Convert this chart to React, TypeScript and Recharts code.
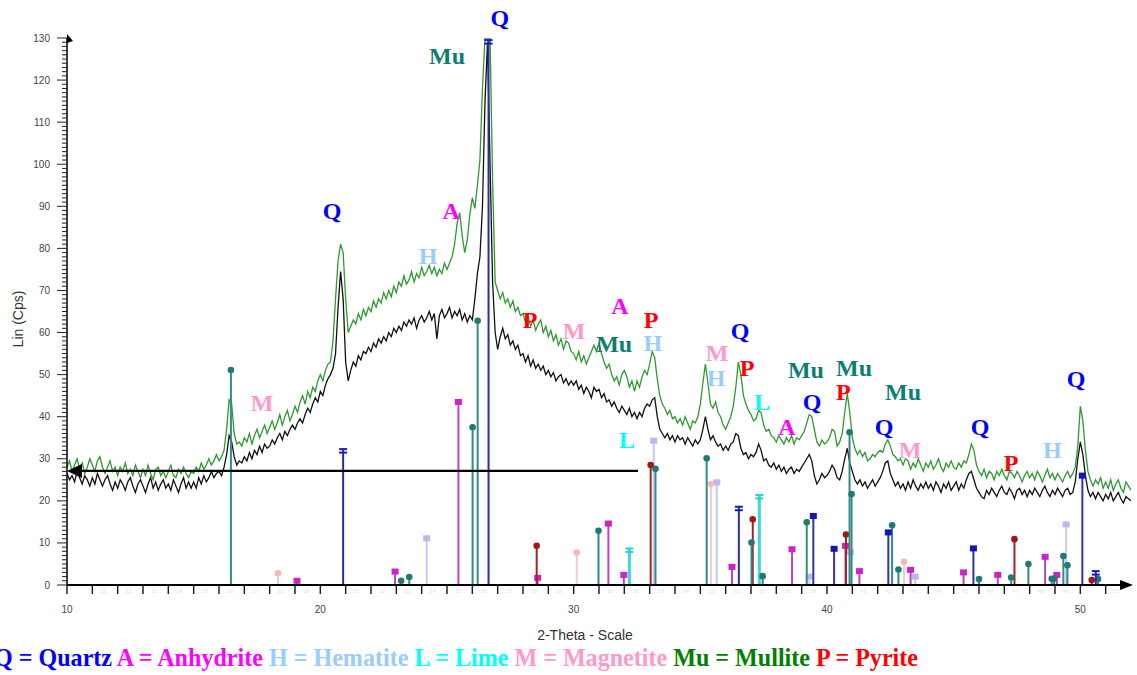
import React from 'react';
import { ComposedChart, Line, XAxis, YAxis, ReferenceLine, ReferenceDot } from 'recharts';

// 2-theta grid of both scans (degrees)
const thetaStart = 10;
const thetaStep = 0.1;

// upper scan (green), Cps, one row per degree
const scanUpper = [
  28, 29.5, 27, 28.5, 30, 27.5, 29, 26.5, 28, 30,
  28.5, 27, 29.5, 30.5, 28, 26.5, 28, 29.5, 27, 28,
  26, 28, 27, 29, 26.5, 27.5, 26, 28.5, 27, 25.5,
  27.5, 26, 28.5, 26.5, 25, 27.5, 28, 26, 27, 25.5,
  27, 28.5, 26, 25.5, 27.5, 26.5, 28, 26.5, 25.5, 27,
  26.5, 28, 27, 29, 27.5, 28.5, 30, 28.5, 29.5, 31,
  29.5, 30.5, 32, 37, 44, 43, 36, 33.5, 34, 33,
  35, 34, 36, 33.5, 35.5, 37, 35, 36.5, 38, 36,
  37.5, 39, 37, 38.5, 40.5, 38, 40, 41.5, 39, 40.5,
  42.5, 41, 43.5, 45, 43, 46, 44.5, 47, 46, 48.5,
  50, 48.5, 51, 52.5, 53, 58, 68, 77, 81, 79,
  68, 60, 61.5, 63, 62, 64.5, 63, 65.5, 64, 66,
  65, 67.5, 66, 68, 67, 69.5, 68, 70, 68.5, 71,
  69.5, 72, 71, 73.5, 71.5, 72.5, 74.5, 72, 74, 73,
  75.5, 73.5, 74.5, 76, 74, 75.5, 73.5, 75, 74, 76.5,
  75, 76.5, 78, 81, 86, 88.5, 83, 79, 82, 88,
  92, 89.5, 95, 101, 118, 130, 130, 130, 96, 72,
  70, 68, 69.5, 67, 68, 66, 67.5, 65, 66, 64,
  64.5, 62.5, 64, 61.5, 63, 60.5, 62, 63, 60, 61.5,
  59, 60.5, 58, 59.5, 57, 58.5, 56, 58, 57.5, 55.5,
  55, 53.5, 55.5, 53, 54.5, 52.5, 54, 55.5, 57, 55.5,
  57.5, 55, 53, 51.5, 52.5, 50, 48.5, 49.5, 47.5, 50,
  51, 49.5, 47, 48.5, 46, 48.5, 47, 49.5, 51, 50,
  52.5, 55.5, 54, 49, 45, 43, 42, 40.5, 41.5, 39.5,
  40, 38.5, 39.5, 38, 40, 38.5, 37, 39, 38.5, 40,
  43, 48, 52.5, 48, 43, 42, 43.5, 41, 40, 38,
  37, 38.5, 40, 42.5, 47, 53, 50, 45, 43, 41.5,
  40.5, 39, 39.5, 41.5, 41, 38, 36.5, 37, 35.5, 35,
  34, 35.5, 34.5, 33.5, 35, 34, 35.5, 33.5, 35, 34.5,
  35.5, 36.5, 38.5, 40.5, 40, 37, 34, 33, 34.5, 33.5,
  34, 35, 37, 36.5, 33, 34, 36, 41, 45.5, 41,
  35, 32.5, 31, 32, 30.5, 31.5, 29.5, 30, 31, 30.5,
  31.5, 32, 31.5, 33.5, 34.5, 33, 31, 30.5, 29.5, 30,
  28.5, 30, 29.5, 27.5, 29, 28, 30, 28.5, 27, 29,
  28, 29.5, 27.5, 28.5, 30, 28, 27, 29, 28, 29.5,
  28, 27.5, 29, 28, 29.5, 29, 31, 33.5, 32, 28.5,
  27, 26, 27.5, 25.5, 27, 26.5, 25, 27, 26, 27.5,
  26, 25, 27, 26.5, 25.5, 27, 26, 24.5, 26, 27,
  25.5, 26.5, 25, 27, 26, 24.5, 26, 27.5, 25.5, 26.5,
  25, 26.5, 25.5, 24.5, 26, 27, 25.5, 26.5, 28, 33,
  42.5, 39, 32, 27, 25, 23.5, 25, 24, 25.5, 23,
  24.5, 23, 25, 22.5, 24, 25, 23, 22, 24.5, 23.5,
  22.5,
];

// lower scan (black), Cps
const scanLower = [
  26.5, 25, 26, 24.5, 27, 25.5, 24, 26, 25, 23.5,
  25.5, 24, 26.5, 25, 23.5, 25, 26, 24, 22.5, 24.5,
  23, 25, 24, 22.5, 24.5, 25.5, 23.5, 22, 24, 25,
  23.5, 22, 24, 25.5, 23, 24.5, 22.5, 24, 25, 23,
  24, 22.5, 25, 23.5, 22, 24, 25.5, 23, 24.5, 23,
  24.5, 23, 25.5, 24, 26, 24.5, 25.5, 27, 25.5, 26.5,
  27, 26, 28, 31, 35.5, 34, 30.5, 28.5, 29.5, 29,
  30.5, 29.5, 31.5, 30, 32, 31, 33, 31.5, 33.5, 32.5,
  33, 34.5, 33.5, 35, 36, 34.5, 36.5, 35.5, 37, 38,
  37, 38.5, 39.5, 38.5, 40.5, 42, 41, 43, 44.5, 43.5,
  46, 45, 47.5, 49, 50, 51.5, 55, 66, 74.5, 68,
  53, 48.5, 51, 53, 52, 54.5, 53.5, 55.5, 55, 56.5,
  55.5, 57.5, 56.5, 58.5, 57.5, 59, 58, 60, 59, 61,
  60, 61.5, 60.5, 62.5, 61.5, 63, 62, 63.5, 61, 63,
  64, 62.5, 63.5, 65, 63, 64.5, 58.5, 64, 65.5, 63.5,
  64.5, 66, 63.5, 65, 64, 65.5, 63, 64.5, 62.5, 64,
  63, 68, 74, 78, 90, 115, 129, 100, 72, 60,
  56, 59, 61, 58.5, 59.5, 57, 58, 56, 57, 54.5,
  55, 53, 54.5, 52, 53.5, 51.5, 52.5, 51, 52, 50,
  51, 49.5, 50.5, 48.5, 49.5, 50, 48, 49, 47.5, 48.5,
  47.5, 48.5, 46.5, 47.5, 45.5, 47, 46, 44.5, 47, 46,
  46.5, 44.5, 45.5, 43.5, 44, 42.5, 43.5, 42, 41, 42.5,
  41.5, 40.5, 42, 40, 41, 39.5, 41, 40, 42, 43,
  42.5, 44, 44.5, 40, 37, 36, 35, 36, 34.5, 35.5,
  34, 35.5, 34.5, 35, 33.5, 35, 34, 33, 34.5, 33.5,
  34.5, 37, 40, 37, 34.5, 35.5, 34, 33, 33.5, 32,
  33, 32, 33.5, 34, 36, 35.5, 32.5, 31, 31.5, 30,
  31, 30.5, 31.5, 33.5, 32, 29.5, 30, 28.5, 28, 29,
  27.5, 28.5, 27, 28, 26.5, 27.5, 28, 26.5, 27.5, 27,
  28, 29, 30, 31, 29.5, 26, 24, 25, 26.5, 25.5,
  26, 27, 28.5, 27.5, 25.5, 25, 27, 30, 32.5, 29,
  27, 25, 24, 25, 23.5, 24.5, 23, 24, 25, 23.5,
  24.5, 25.5, 27, 29, 29.5, 26.5, 25, 23.5, 24.5, 23,
  24, 22.5, 24.5, 23, 25, 23.5, 22.5, 24, 23, 24.5,
  23, 24, 22.5, 24.5, 23.5, 22, 24, 23, 24.5, 22.5,
  23.5, 24.5, 22.5, 24, 23, 25, 26.5, 27, 25, 23,
  22, 21, 20.5, 22.5, 21.5, 23, 22, 21, 22.5, 23.5,
  22, 21.5, 23, 22, 20.5, 22.5, 23, 21.5, 22.5, 21,
  22.5, 21.5, 23, 22, 21, 22.5, 23.5, 22, 21, 22.5,
  21.5, 23, 22, 21, 22.5, 23, 21.5, 22, 24.5, 30,
  34, 31, 26, 22.5, 21, 22, 20.5, 22, 21, 20,
  21.5, 20.5, 22, 20, 21, 22, 20.5, 19.5, 21, 20.5,
  20,
];

type Stick = { theta: number; i: number };

// reference card lines per phase
const quartzCardA: Stick[] = [
  { theta: 20.9, i: 32.3 }, { theta: 26.64, i: 129.5 }, { theta: 36.52, i: 18.6 }, { theta: 50.61, i: 3.3 },
];
const quartzCardB: Stick[] = [
  { theta: 39.46, i: 16.4 }, { theta: 40.28, i: 8.6 }, { theta: 42.42, i: 12.5 }, { theta: 45.78, i: 8.7 },
  { theta: 50.08, i: 26 },
];
const mulliteCard: Stick[] = [
  { theta: 16.47, i: 51.1 }, { theta: 23.19, i: 1 }, { theta: 23.51, i: 1.9 }, { theta: 26.01, i: 37.5 },
  { theta: 26.21, i: 62.8 }, { theta: 30.98, i: 12.9 }, { theta: 33.23, i: 27.6 }, { theta: 35.25, i: 30.1 },
  { theta: 37.02, i: 10.1 }, { theta: 37.46, i: 2.1 }, { theta: 39.2, i: 14.9 }, { theta: 40.89, i: 36.3 },
  { theta: 40.97, i: 21.6 }, { theta: 42.57, i: 14.2 }, { theta: 42.82, i: 3.7 }, { theta: 46.0, i: 1.4 },
  { theta: 47.27, i: 1.8 }, { theta: 47.95, i: 5 }, { theta: 48.87, i: 1.5 }, { theta: 48.96, i: 1.5 },
  { theta: 49.33, i: 6.9 }, { theta: 49.49, i: 4.7 }, { theta: 50.7, i: 1.4 },
];
const anhydriteCard: Stick[] = [
  { theta: 19.08, i: 1 }, { theta: 22.95, i: 3.2 }, { theta: 25.45, i: 43.5 }, { theta: 28.58, i: 1.7 },
  { theta: 31.37, i: 14.6 }, { theta: 31.98, i: 2.4 }, { theta: 36.25, i: 4.3 }, { theta: 38.62, i: 8.5 },
  { theta: 40.73, i: 9.3 }, { theta: 41.28, i: 3.3 }, { theta: 43.3, i: 3.6 }, { theta: 45.39, i: 3 },
  { theta: 46.74, i: 2.4 }, { theta: 48.61, i: 6.7 }, { theta: 49.07, i: 2.4 },
];
const hematiteCard: Stick[] = [
  { theta: 24.2, i: 11.1 }, { theta: 33.16, i: 34.3 }, { theta: 35.65, i: 24.4 }, { theta: 39.3, i: 2 },
  { theta: 40.92, i: 7.8 }, { theta: 43.48, i: 2 }, { theta: 49.44, i: 14.4 },
];
const magnetiteCard: Stick[] = [
  { theta: 18.33, i: 2.8 }, { theta: 30.12, i: 7.7 }, { theta: 35.42, i: 24 }, { theta: 43.04, i: 5.5 },
];
const limeCard: Stick[] = [
  { theta: 32.2, i: 8.7 }, { theta: 37.33, i: 21.4 },
];
const pyriteCard: Stick[] = [
  { theta: 28.54, i: 9.3 }, { theta: 33.04, i: 28.5 }, { theta: 37.07, i: 15.6 }, { theta: 40.75, i: 12 },
  { theta: 47.4, i: 10.9 }, { theta: 50.45, i: 1.2 },
];

// phase tags placed over the peaks
const tagText = ['Q', 'Mu', 'Q', 'A', 'H', 'M', 'P', 'M', 'A', 'P', 'Mu', 'H', 'L', 'Q', 'M', 'H', 'P', 'L',
  'Mu', 'Mu', 'P', 'Q', 'A', 'Mu', 'Q', 'M', 'Q', 'P', 'H', 'Q'];
const tagTheta = [27.09, 25.0, 20.46, 25.16, 24.25, 17.7, 28.28, 30.02, 31.83, 33.06, 31.6, 33.13, 32.11, 36.57,
  35.66, 35.62, 36.85, 37.44, 39.17, 41.07, 40.64, 39.41, 38.42, 43.0, 42.25, 43.28, 46.04, 47.27, 48.89, 49.83];
const tagCps = [134.7, 125.7, 88.8, 88.8, 78.1, 43.2, 62.9, 60.3, 66.3, 62.9, 57.2, 57.5, 34.4, 60.3,
  55.1, 49.2, 51.5, 43.5, 51.1, 51.5, 45.8, 43.5, 37.5, 45.8, 37.5, 32.1, 37.5, 29.0, 32.1, 48.9];

// background level arrow
const arrowCps = 27.1;
const arrowFrom = 32.54;

const legendItems = [
  ['Q', 'Quartz'], ['A', 'Anhydrite'], ['H', 'Hematite'], ['L', 'Lime'],
  ['M', 'Magnetite'], ['Mu', 'Mullite'], ['P', 'Pyrite'],
];

const yTicks = Array.from({ length: 131 }, (_, k) => k);
const xTicks = Array.from({ length: 42 }, (_, k) => 10 + k);

const tagColor: Record<string, string> = {
  Q: '#0000ff', Mu: '#0c7f73', A: '#ff00ff', H: '#99ccff', M: '#ff99cc', P: '#ff0000', L: '#00ffff',
};
const legendColor: Record<string, string> = {
  Q: '#0000ff', A: '#ff00ff', H: '#99ccff', L: '#00ffff', M: '#ff99cc', Mu: '#008000', P: '#ff0000',
};

type Head = 'bars' | 'square' | 'circle';
const cardStyle: Record<string, { stroke: string; fill: string; head: Head; width: number }> = {
  quartzA: { stroke: '#2c2ca6', fill: '#1c1cb4', head: 'bars', width: 2 },
  quartzB: { stroke: '#3232ae', fill: '#1414b8', head: 'square', width: 2 },
  mullite: { stroke: '#2f8c86', fill: '#1f7a74', head: 'circle', width: 2 },
  anhydrite: { stroke: '#bb44bb', fill: '#cc22cc', head: 'square', width: 2 },
  hematite: { stroke: '#c8c8f2', fill: '#b8b8f0', head: 'square', width: 2 },
  magnetite: { stroke: '#f4caca', fill: '#f4b8b8', head: 'circle', width: 2 },
  lime: { stroke: '#3cd8d8', fill: '#2cd0d0', head: 'bars', width: 3 },
  pyrite: { stroke: '#a32424', fill: '#a01818', head: 'circle', width: 2 },
};

const cards: { key: string; sticks: Stick[] }[] = [
  { key: 'hematite', sticks: hematiteCard },
  { key: 'magnetite', sticks: magnetiteCard },
  { key: 'anhydrite', sticks: anhydriteCard },
  { key: 'lime', sticks: limeCard },
  { key: 'pyrite', sticks: pyriteCard },
  { key: 'mullite', sticks: mulliteCard },
  { key: 'quartzB', sticks: quartzCardB },
  { key: 'quartzA', sticks: quartzCardA },
];

const toSeries = (values: number[]) =>
  values.map((cps, k) => ({ theta: +(thetaStart + k * thetaStep).toFixed(2), cps }));

const upperData = toSeries(scanUpper);
const lowerData = toSeries(scanLower);

const serif = "'Liberation Serif', 'Times New Roman', serif";
const sans = "'Liberation Sans', Arial, sans-serif";

function renderStick(p: any, style: { stroke: string; fill: string; head: Head; width: number }) {
  const x = p.x1;
  const top = Math.min(p.y1, p.y2);
  const bottom = Math.max(p.y1, p.y2);
  return (
    <g>
      <line x1={x} x2={x} y1={bottom} y2={top} stroke={style.stroke} strokeWidth={style.width} />
      {style.head === 'circle' && <circle cx={x} cy={top} r={3.3} fill={style.fill} />}
      {style.head === 'square' && <rect x={x - 3.5} y={top - 3} width={7} height={6} fill={style.fill} />}
      {style.head === 'bars' && (
        <g fill={style.fill}>
          <rect x={x - 4} y={top - 1} width={8} height={2} />
          <rect x={x - 4} y={top + 2.5} width={8} height={2} />
        </g>
      )}
    </g>
  );
}

function renderArrow(p: any) {
  const left = Math.min(p.x1, p.x2);
  const right = Math.max(p.x1, p.x2);
  const y = p.y1;
  return (
    <g>
      <line x1={left + 12} x2={right} y1={y} y2={y} stroke="#000" strokeWidth={2.2} />
      <polygon points={`${left},${y} ${left + 15},${y - 7} ${left + 15},${y + 7}`} fill="#000" />
    </g>
  );
}

function YTick(p: any) {
  const v = p.payload.value;
  const major = v % 10 === 0;
  return (
    <g>
      <line x1={p.x - (major ? 10 : 5)} x2={p.x} y1={p.y} y2={p.y} stroke="#222" strokeWidth={1} />
      {major && (
        <text x={p.x - 17} y={p.y} textAnchor="end" dominantBaseline="central" fontSize={10}
          fontFamily={sans} fill="#444">{v}</text>
      )}
    </g>
  );
}

function XTick(p: any) {
  const v = p.payload.value;
  const major = v % 10 === 0;
  return (
    <g>
      <line x1={p.x} x2={p.x} y1={p.y} y2={p.y + 9} stroke="#222" strokeWidth={1.5} />
      {major ? (
        <text x={p.x} y={p.y + 24} textAnchor="middle" dominantBaseline="central" fontSize={10}
          fontFamily={sans} fill="#444">{v}</text>
      ) : (
        <text x={p.x + 11} y={p.y + 6} textAnchor="middle" dominantBaseline="central" fontSize={6}
          fontFamily={sans} fill="#e4e4e4">{v}</text>
      )}
    </g>
  );
}

export default function App() {
  return (
    <div style={{ position: 'absolute', left: 0, top: 0, width: 1137, height: 675, background: '#fff' }}>
      <ComposedChart width={1137} height={675} margin={{ top: 38, right: 6, bottom: 0, left: 0 }}>
        <XAxis dataKey="theta" type="number" domain={[10, 52]} ticks={xTicks} interval={0} height={90}
          tickSize={0} tickMargin={0} tickLine={false} tick={XTick} axisLine={{ stroke: '#000', strokeWidth: 2 }}
          allowDataOverflow />
        <YAxis type="number" domain={[0, 130]} ticks={yTicks} interval={0} width={67}
          tickSize={0} tickMargin={0} tickLine={false} tick={YTick} axisLine={{ stroke: '#000', strokeWidth: 1.5 }}
          allowDataOverflow />

        <Line data={lowerData} dataKey="cps" type="linear" stroke="#111" strokeWidth={1.3} dot={false}
          isAnimationActive={false} />
        <Line data={upperData} dataKey="cps" type="linear" stroke="#2f9a2f" strokeWidth={1.3} dot={false}
          isAnimationActive={false} />

        {cards.flatMap((card) =>
          card.sticks.map((s, k) => (
            <ReferenceLine key={`${card.key}-${k}`} segment={[{ x: s.theta, y: 0 }, { x: s.theta, y: s.i }]}
              ifOverflow="visible" shape={(p: any) => renderStick(p, cardStyle[card.key])} />
          ))
        )}

        <ReferenceLine segment={[{ x: 10, y: arrowCps }, { x: arrowFrom, y: arrowCps }]} ifOverflow="visible"
          shape={renderArrow} />

        <ReferenceDot x={52} y={0} ifOverflow="visible"
          shape={(p: any) => <polygon points={`${p.cx - 11},${p.cy - 5} ${p.cx + 2},${p.cy} ${p.cx - 11},${p.cy + 5}`} fill="#000" />} />
        <ReferenceDot x={10} y={130} ifOverflow="visible"
          shape={(p: any) => <polygon points={`${p.cx},${p.cy - 4} ${p.cx + 6},${p.cy + 3} ${p.cx},${p.cy + 5}`} fill="#000" />} />

        {tagText.map((t, k) => (
          <ReferenceDot key={`tag-${k}`} x={tagTheta[k]} y={tagCps[k]} ifOverflow="visible"
            shape={(p: any) => (
              <text x={p.cx} y={p.cy} textAnchor="middle" dominantBaseline="central" fill={tagColor[t]}
                fontFamily={serif} fontWeight="bold" fontSize={24}>{t}</text>
            )} />
        ))}
      </ComposedChart>

      <svg width={1137} height={675} style={{ position: 'absolute', left: 0, top: 0, pointerEvents: 'none' }}>
        <text transform="translate(18,319) rotate(-90)" textAnchor="middle" dominantBaseline="central"
          fontFamily={sans} fontSize={14} fill="#333">Lin (Cps)</text>
        <text x={585} y={635} textAnchor="middle" dominantBaseline="central" fontFamily={sans} fontSize={14}
          fill="#333">2-Theta - Scale</text>
        <text x={-6} y={666} fontFamily={serif} fontWeight="bold" fontSize={25} textLength={924}
          lengthAdjust="spacingAndGlyphs">
          {legendItems.map(([code, name], k) => (
            <tspan key={code} fill={legendColor[code]}>
              {`${code} = ${name}${k < legendItems.length - 1 ? ' ' : ''}`}
            </tspan>
          ))}
        </text>
      </svg>
    </div>
  );
}
